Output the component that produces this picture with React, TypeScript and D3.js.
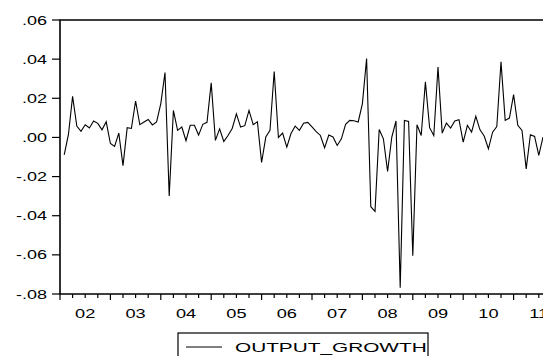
import React, { useEffect, useRef } from 'react';
import * as d3 from 'd3';

// monthly output growth, first obs 2002M02
const growth = [
  -0.0089, 0.0014, 0.0210, 0.0058, 0.0031, 0.0065, 0.0048, 0.0084, 0.0072, 0.0039,
  0.0080, -0.0031, -0.0046, 0.0022, -0.0144, 0.0050, 0.0046, 0.0186, 0.0065, 0.0079,
  0.0092, 0.0064, 0.0079, 0.0173, 0.0332, -0.0299, 0.0138, 0.0036, 0.0053, -0.0017,
  0.0062, 0.0062, 0.0012, 0.0067, 0.0077, 0.0279, -0.0015, 0.0044, -0.0021, 0.0010,
  0.0046, 0.0120, 0.0053, 0.0060, 0.0138, 0.0065, 0.0080, -0.0128, 0.0002, 0.0036,
  0.0337, 0.0000, 0.0022, -0.0050, 0.0020, 0.0058, 0.0036, 0.0072, 0.0077, 0.0054,
  0.0030, 0.0010, -0.0053, 0.0012, 0.0002, -0.0041, -0.0007, 0.0067, 0.0087, 0.0085,
  0.0079, 0.0173, 0.0403, -0.0354, -0.0378, 0.0041, -0.0007, -0.0174, 0.0002, 0.0084,
  -0.0768, 0.0087, 0.0082, -0.0605, 0.0065, 0.0010, 0.0284, 0.0050, 0.0010, 0.0360,
  0.0022, 0.0073, 0.0048, 0.0084, 0.0091, -0.0024, 0.0062, 0.0027, 0.0108, 0.0039,
  0.0007, -0.0058, 0.0027, 0.0055, 0.0386, 0.0087, 0.0099, 0.0219, 0.0062, 0.0036,
  -0.0161, 0.0014, 0.0005, -0.0092, 0.0002,
];
const startYear = 2002;
const startMonth = 2;
const years = [2002, 2003, 2004, 2005, 2006, 2007, 2008, 2009, 2010, 2011];
const yearLabels = ['02', '03', '04', '05', '06', '07', '08', '09', '10', '11'];
const yTicks = [0.06, 0.04, 0.02, 0.0, -0.02, -0.04, -0.06, -0.08];
const yTickLabels = ['.06', '.04', '.02', '.00', '-.02', '-.04', '-.06', '-.08'];
const seriesName = 'OUTPUT_GROWTH';

const FONT = '"Liberation Sans", Arial, sans-serif';

function App() {
  const ref = useRef<SVGSVGElement>(null);

  useEffect(() => {
    if (!ref.current) return;
    const svg = d3.select(ref.current);
    svg.selectAll('*').remove();

    const left = 60, top = 20, bottom = 294;
    const x = d3.scaleLinear().domain([2002, 2012]).range([left, left + 504]);
    const y = d3.scaleLinear().domain([-0.08, 0.06]).range([bottom, top]);
    const right = x(2012);

    svg.append('rect').attr('width', 543).attr('height', 356).attr('fill', '#fff');

    // series line
    const pts = growth.map((v, i) => [startYear + (startMonth - 1 + i) / 12, v] as [number, number]);
    svg.append('path')
      .datum(pts)
      .attr('fill', 'none')
      .attr('stroke', '#000')
      .attr('stroke-width', 1.1)
      .attr('d', d3.line<[number, number]>().x(d => x(d[0])).y(d => y(d[1])));

    // frame
    svg.append('path')
      .attr('d', `M${right},${top}H${left}V${bottom}H${right}`)
      .attr('stroke', '#000').attr('stroke-width', 1.6).attr('fill', 'none');

    // y ticks + labels
    yTicks.forEach((t, i) => {
      svg.append('line')
        .attr('x1', left - 8).attr('x2', left)
        .attr('y1', y(t)).attr('y2', y(t))
        .attr('stroke', '#000').attr('stroke-width', 1.2);
      svg.append('text')
        .attr('transform', `translate(${left - 13},${y(t) + 4.5}) scale(1.5,1)`)
        .attr('text-anchor', 'end')
        .attr('font-family', FONT)
        .attr('font-size', 12)
        .attr('fill', '#000')
        .text(yTickLabels[i]);
    });

    // x ticks (quarterly) + year labels
    years.concat([2012]).forEach(yr => {
      for (let q = 0; q < 4; q++) {
        const xv = x(yr + q / 4);
        if (xv > 545) continue;
        svg.append('line')
          .attr('x1', xv).attr('x2', xv)
          .attr('y1', bottom).attr('y2', bottom + (q === 0 ? 6 : 4))
          .attr('stroke', '#000').attr('stroke-width', 1.2);
      }
    });
    years.forEach((yr, i) => {
      svg.append('text')
        .attr('transform', `translate(${x(yr + 0.5)},${bottom + 24}) scale(1.4,1)`)
        .attr('text-anchor', 'middle')
        .attr('font-family', FONT)
        .attr('font-size', 13)
        .attr('fill', '#000')
        .text(yearLabels[i]);
    });

    // legend
    const lg = svg.append('g');
    lg.append('rect')
      .attr('x', 178).attr('y', 333).attr('width', 250).attr('height', 30)
      .attr('fill', 'none').attr('stroke', '#000').attr('stroke-width', 1.2);
    lg.append('line')
      .attr('x1', 186).attr('x2', 222).attr('y1', 347).attr('y2', 347)
      .attr('stroke', '#000').attr('stroke-width', 1);
    lg.append('text')
      .attr('transform', `translate(235,352) scale(1.6,1)`)
      .attr('font-family', FONT)
      .attr('font-size', 13)
      .attr('fill', '#000')
      .text(seriesName);
  }, []);

  return (
    <svg
      ref={ref}
      width={543}
      height={356}
      style={{ position: 'absolute', left: 0, top: 0, display: 'block' }}
    />
  );
}

export default App;
